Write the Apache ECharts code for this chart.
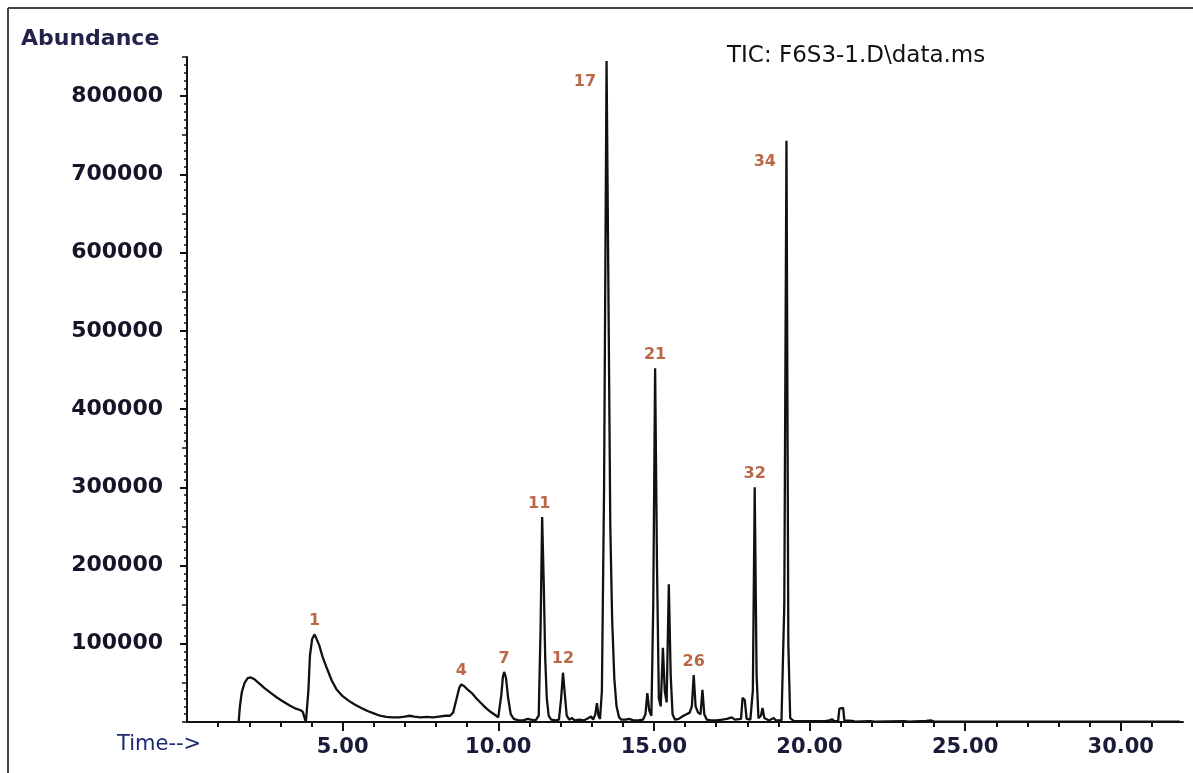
<!DOCTYPE html>
<html>
<head>
<meta charset="utf-8">
<script src="https://cdn.jsdelivr.net/npm/echarts@6/dist/echarts.min.js"></script>
<style>
  html, body { margin: 0; padding: 0; background: #fff; }
  #chart { width: 1193px; height: 773px; }
</style>
</head>
<body>
<div id="chart"></div>
<script>
// total ion chromatogram, [time (min), abundance]
const tic = [
  [1.66, 0], [1.70, 20000], [1.76, 38000], [1.85, 50000], [1.95, 56000], [2.05, 57000],
  [2.15, 55000], [2.30, 50000], [2.50, 43000], [2.70, 37000], [2.90, 31000], [3.10, 26000],
  [3.30, 21000], [3.50, 17000], [3.65, 15000], [3.72, 13000], [3.78, 5000], [3.82, 0],
  [3.86, 2000], [3.90, 40000], [3.95, 85000], [4.02, 106000], [4.10, 112000], [4.16, 110000],
  [4.25, 98000], [4.35, 84000], [4.50, 68000], [4.65, 53000], [4.80, 42000], [5.00, 33000],
  [5.20, 27000], [5.40, 22000], [5.60, 18000], [5.80, 14000], [6.00, 11000], [6.20, 8000],
  [6.40, 6500], [6.60, 6000], [6.80, 6000], [7.00, 7000], [7.15, 8000], [7.30, 7000],
  [7.50, 6000], [7.70, 6500], [7.90, 6000], [8.10, 7000], [8.30, 8000], [8.45, 8000],
  [8.55, 12000], [8.65, 28000], [8.75, 44000], [8.81, 48000], [8.90, 46000], [9.00, 42000],
  [9.15, 37000], [9.30, 30000], [9.45, 24000], [9.60, 18000], [9.75, 13000], [9.90, 9000],
  [10.00, 6000], [10.05, 8000], [10.10, 35000], [10.15, 58000], [10.19, 64000], [10.25, 56000],
  [10.32, 30000], [10.40, 10000], [10.50, 4000], [10.65, 2000], [10.80, 2000], [10.95, 4000],
  [11.05, 3000], [11.20, 2000], [11.30, 8000], [11.36, 120000], [11.41, 262000], [11.46, 180000],
  [11.51, 80000], [11.56, 30000], [11.62, 8000], [11.70, 3000], [11.85, 2000], [11.95, 3000],
  [12.02, 30000], [12.08, 63000], [12.14, 35000], [12.20, 8000], [12.28, 3000], [12.37, 5000],
  [12.45, 2000], [12.60, 3000], [12.75, 2000], [12.90, 5000], [12.98, 7000], [13.05, 3000],
  [13.12, 10000], [13.17, 24000], [13.22, 8000], [13.27, 4000], [13.33, 40000], [13.40, 300000],
  [13.48, 845000], [13.55, 500000], [13.60, 250000], [13.66, 130000], [13.73, 55000], [13.80, 20000],
  [13.88, 6000], [13.95, 3000], [14.10, 3000], [14.20, 4000], [14.35, 2000], [14.50, 2000],
  [14.65, 3000], [14.73, 10000], [14.79, 37000], [14.85, 15000], [14.92, 8000], [14.98, 150000],
  [15.04, 452000], [15.10, 200000], [15.16, 30000], [15.22, 20000], [15.29, 95000], [15.35, 40000],
  [15.41, 25000], [15.48, 176000], [15.54, 60000], [15.60, 10000], [15.68, 3000], [15.80, 4000],
  [15.95, 8000], [16.05, 10000], [16.15, 12000], [16.22, 20000], [16.28, 60000], [16.34, 20000],
  [16.42, 12000], [16.50, 10000], [16.56, 41000], [16.62, 10000], [16.70, 3000], [16.85, 2000],
  [17.00, 2000], [17.20, 3000], [17.35, 4000], [17.50, 6000], [17.60, 3000], [17.80, 4000],
  [17.85, 31000], [17.92, 28000], [17.98, 4000], [18.10, 3000], [18.18, 40000], [18.24, 300000],
  [18.30, 60000], [18.36, 5000], [18.44, 8000], [18.49, 18000], [18.55, 5000], [18.70, 2000],
  [18.85, 5000], [18.92, 2000], [19.10, 2000], [19.19, 150000], [19.26, 743000], [19.32, 100000],
  [19.38, 5000], [19.50, 1000], [20.00, 1000], [20.50, 1000], [20.65, 2000], [20.72, 3500],
  [20.80, 1000], [20.92, 1500], [20.96, 17000], [21.08, 18000], [21.12, 2000], [21.38, 1500],
  [21.45, 500], [21.95, 1200], [22.10, 500], [23.05, 1200], [23.20, 500], [23.75, 1500],
  [23.90, 2000], [24.00, 500], [25.00, 500], [28.00, 500], [31.90, 500]
];

// numbered peaks
const peakNames = ['1', '4', '7', '11', '12', '17', '21', '26', '32', '34'];
const peakTimes = [4.10, 8.81, 10.19, 11.41, 12.08, 13.48, 15.04, 16.28, 18.24, 19.26];
const peakTops = [112000, 48000, 64000, 262000, 63000, 845000, 452000, 60000, 300000, 743000];

// axis ticks
const xMajorTicks = [5, 10, 15, 20, 25, 30];
const xMinorTicks = [1, 2, 3, 4, 6, 7, 8, 9, 11, 12, 13, 14, 16, 17, 18, 19, 21, 22, 23, 24, 26, 27, 28, 29, 31];
const yMajorTicks = [100000, 200000, 300000, 400000, 500000, 600000, 700000, 800000];

const peakColor = '#a9431a';
const font = 'DejaVu Sans';

const peakData = peakNames.map(function (name, i) {
  const item = { value: [peakTimes[i], peakTops[i]], name: name };
  if (name === '17' || name === '34') {
    item.label = { position: 'left', distance: 10, offset: [0, 21] };
  } else if (name === '11') {
    item.label = { offset: [-3, 0] };
  }
  return item;
});

const chart = echarts.init(document.getElementById('chart'), null, { renderer: 'canvas' });

const baseX = { type: 'value', min: 0, max: 32, position: 'bottom', splitLine: { show: false } };
const baseY = { type: 'value', min: 0, max: 850000, position: 'left', splitLine: { show: false } };

chart.setOption({
  animation: false,
  backgroundColor: '#fff',
  grid: { left: 187, right: 10, top: 57, bottom: 51 },
  graphic: [
    { type: 'line', shape: { x1: 8, y1: 8, x2: 1193, y2: 8 }, style: { stroke: '#444', lineWidth: 2 } },
    { type: 'line', shape: { x1: 8, y1: 8, x2: 8, y2: 773 }, style: { stroke: '#444', lineWidth: 2 } },
    { type: 'text', left: 21, top: 28, style: { text: 'Abundance', font: 'bold 22px "DejaVu Sans"', fill: '#22224a' } },
    { type: 'text', left: 727, top: 45, style: { text: 'TIC: F6S3-1.D\\data.ms', font: '23px "DejaVu Sans"', fill: '#111' } },
    { type: 'text', left: 117, top: 734, style: { text: 'Time-->', font: '21px "DejaVu Sans"', fill: '#1c2a6e' } }
  ],
  xAxis: [
    Object.assign({}, baseX, {
      axisLine: { lineStyle: { color: '#111', width: 2 } },
      axisTick: { length: 9, customValues: xMajorTicks, lineStyle: { color: '#111', width: 2 } },
      axisLabel: {
        customValues: xMajorTicks, margin: 15,
        formatter: function (v) { return v.toFixed(2); },
        fontFamily: font, fontWeight: 'bold', fontSize: 21, color: '#1b1b3a'
      }
    }),
    Object.assign({}, baseX, {
      axisLine: { show: false },
      axisTick: { length: 5, customValues: xMinorTicks, lineStyle: { color: '#111', width: 2 } },
      axisLabel: { show: false }
    })
  ],
  yAxis: [
    Object.assign({}, baseY, {
      interval: 100000,
      axisLine: { lineStyle: { color: '#111', width: 2 } },
      axisTick: { length: 7, customValues: yMajorTicks, lineStyle: { color: '#111', width: 2 } },
      axisLabel: {
        customValues: yMajorTicks, margin: 24,
        formatter: function (v) { return String(v); },
        fontFamily: font, fontWeight: 'bold', fontSize: 22, color: '#15152a'
      }
    }),
    Object.assign({}, baseY, {
      interval: 50000,
      axisLine: { show: false },
      axisTick: { length: 5, lineStyle: { color: '#111', width: 1.5 } },
      axisLabel: { show: false }
    }),
    Object.assign({}, baseY, {
      interval: 10000,
      axisLine: { show: false },
      axisTick: { length: 3, lineStyle: { color: '#111', width: 1.5 } },
      axisLabel: { show: false }
    })
  ],
  series: [
    {
      type: 'line',
      data: tic,
      showSymbol: false,
      symbol: 'none',
      lineStyle: { color: '#111', width: 2.3 },
      silent: true
    },
    {
      type: 'scatter',
      data: peakData,
      symbolSize: 1,
      itemStyle: { color: 'transparent' },
      silent: true,
      z: 5,
      label: {
        show: true,
        position: 'top',
        distance: 5,
        formatter: '{b}',
        fontFamily: font,
        fontWeight: 'bold',
        fontSize: 16,
        color: peakColor
      }
    }
  ]
});
</script>
</body>
</html>
